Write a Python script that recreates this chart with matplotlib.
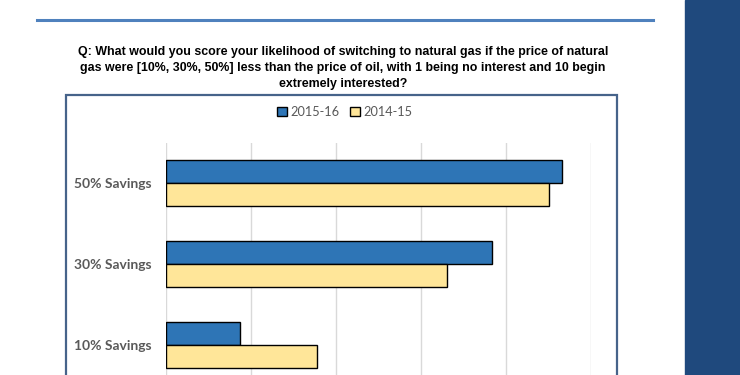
import matplotlib.pyplot as plt
from matplotlib.patches import Rectangle
from matplotlib.lines import Line2D

# data (units of the hidden x axis)
categories = ['10% Savings', '30% Savings', '50% Savings']
s2015_16 = [8.7, 38.4, 46.6]
s2014_15 = [17.8, 33.1, 45.1]
series_names = ['2015-16', '2014-15']

title = ('Q: What would you score your likelihood of switching to natural gas if the price of natural\n'
         'gas were [10%, 30%, 50%] less than the price of oil, with 1 being no interest and 10 begin\n'
         'extremely interested?')

blue = '#2e75b6'
yellow = '#ffe699'
grey_txt = '#595959'

fig = plt.figure(figsize=(7.4, 3.75), dpi=100)

# right hand dark panel and top rule of the slide
fig.patches.append(Rectangle((685 / 740, 0), 55 / 740, 1, transform=fig.transFigure,
                             color='#1f497d', zorder=0))
fig.add_artist(Line2D([37 / 740, 653 / 740], [1 - 20 / 375, 1 - 20 / 375],
                      color='#4f81bd', lw=2.2))

# chart box
fig.patches.append(Rectangle((66 / 740, -0.1), 551 / 740, 1 - 95 / 375 + 0.1,
                             transform=fig.transFigure, fill=False,
                             edgecolor='#46638a', lw=1.6, zorder=1))

fig.text(343 / 740, 1 - 46 / 375, title, ha='center', va='top', fontsize=8.9,
         fontweight='bold', linespacing=1.42,
         family=['Liberation Sans', 'DejaVu Sans'])

ax = fig.add_axes([166 / 740, -10.5 / 375, 425 / 740, 243 / 375])
h = 0.284
y = list(range(len(categories)))
ax.barh([v + h / 2 for v in y], s2015_16, height=h, color=blue, edgecolor='black',
        lw=1, label=series_names[0], zorder=3)
ax.barh([v - h / 2 for v in y], s2014_15, height=h, color=yellow, edgecolor='black',
        lw=1, label=series_names[1], zorder=3)

ax.set_xlim(0, 50)
ax.set_ylim(-0.5, 2.5)
ax.set_xticks([0, 10, 20, 30, 40, 50])
ax.set_xticklabels([])
ax.tick_params(length=0)
ax.xaxis.grid(True, color='#d9d9d9', lw=1)
ax.set_axisbelow(True)
for s in ax.spines.values():
    s.set_visible(False)
ax.set_yticks(y)
ax.set_yticklabels(categories, fontsize=10, fontweight='bold', color=grey_txt,
                   family=['Lato', 'DejaVu Sans'])
ax.tick_params(axis='y', pad=10)

ax.legend(loc='center', bbox_to_anchor=(345 / 740, 1 - 112 / 375), bbox_transform=fig.transFigure,
          ncol=2, frameon=False, handlelength=0.75, handleheight=0.75, handletextpad=0.3,
          columnspacing=0.8, prop={'family': 'Lato', 'size': 9.2}, labelcolor=grey_txt)

fig.savefig('out.png', dpi=100)
